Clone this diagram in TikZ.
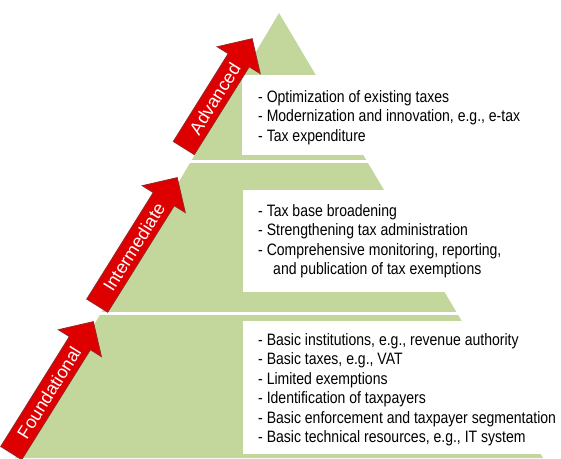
\documentclass[tikz,border=0pt]{standalone}
\usepackage{fontspec}
\setmainfont{Liberation Sans}
\newfontfamily\narrowfont{Liberation Sans}[FakeStretch=0.85]
\usetikzlibrary{shapes.arrows}

\definecolor{tiergreen}{RGB}{195,214,155}
\definecolor{stagered}{RGB}{222,0,0}
\definecolor{stageedge}{RGB}{150,40,40}

\tikzset{
  stage/.style={single arrow, fill=stagered, draw=stageedge, line width=0.8pt,
    text=white, font=\fontsize{18}{18}\selectfont,
    single arrow head extend=13pt, single arrow tip angle=90,
    text height=13pt, text depth=0pt, inner ysep=5.5pt, inner xsep=0pt,
    anchor=tail, rotate=58},
  items/.style={anchor=north west, align=left, inner sep=0pt,
    font=\narrowfont\fontsize{16.5}{19.5}\selectfont}
}

\begin{document}
\begin{tikzpicture}[x=1pt,y=-1pt]
    \useasboundingbox (0,0) rectangle (561,458);

    % pyramid, split into three tiers by white gaps
    \coordinate (apex) at (279,13);
    \coordinate (baseleft) at (15,458);
    \coordinate (baseright) at (543,458);
    \fill[tiergreen] (apex) -- (baseleft) -- (baseright) -- cycle;
    \draw[white, line width=3pt] (0,161.5) -- (561,161.5);
    \draw[white, line width=3pt] (0,313.5) -- (561,313.5);

    % text panels
    \fill[white] (242,75) rectangle (550,155);
    \fill[white] (243,190) rectangle (550,292);
    \fill[white] (243,321) rectangle (550,454);

    \node[items] (advtext) at (258,90) {- Optimization of existing taxes\\
        - Modernization and innovation, e.g., e-tax\\
        - Tax expenditure};
    \node[items] (midtext) at (258,204) {- Tax base broadening\\
        - Strengthening tax administration\\
        - Comprehensive monitoring, reporting,\\
        \hspace*{15pt}and publication of tax exemptions};
    \node[items] (basetext) at (258,333) {- Basic institutions, e.g., revenue authority\\
        - Basic taxes, e.g., VAT\\
        - Limited exemptions\\
        - Identification of taxpayers\\
        - Basic enforcement and taxpayer segmentation\\
        - Basic technical resources, e.g., IT system};

    % stage arrows along the left slope
    \node[stage, minimum height=129pt] (advanced) at (183.6,148.4) {Advanced};
    \node[stage, minimum height=151pt] (intermediate) at (97,306) {Intermediate};
    \node[stage, minimum height=155pt] (foundational) at (11,453.4) {Foundational};

\end{tikzpicture}
\end{document}
